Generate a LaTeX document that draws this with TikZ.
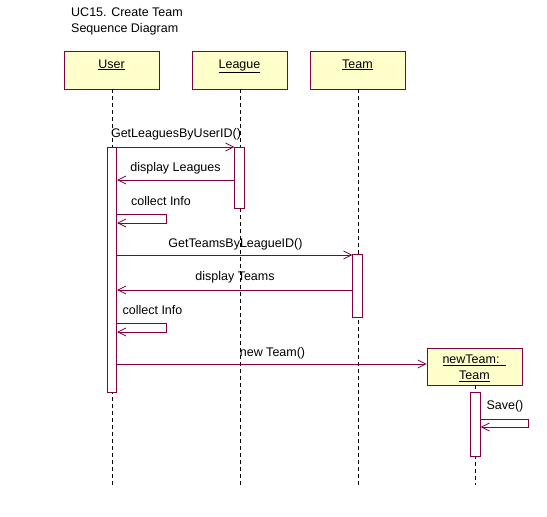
\documentclass[tikz,border=0pt]{standalone}
\usepackage{fontspec}
\setmainfont{Liberation Sans}
\usetikzlibrary{arrows.meta}
\definecolor{rose}{RGB}{128,0,64}
\definecolor{objfill}{RGB}{255,255,204}
\begin{document}
\begin{tikzpicture}[x=1pt,y=-1pt,
  every node/.style={font=\fontsize{12.5}{16}\selectfont},
  objbox/.style={draw=rose, fill=objfill, line width=0.8pt, minimum width=95pt,
    minimum height=38pt, inner sep=0pt},
  headbox/.style={objbox, text height=9pt, text depth=13pt},
  act/.style={draw=rose, fill=white, line width=0.8pt, minimum width=9.5pt, inner sep=0pt},
  life/.style={black, dash pattern=on 4pt off 3pt, line width=0.7pt},
  msg/.style={draw=rose, line width=0.8pt, -{Straight Barb[length=8pt,width=8pt]}},
  lbl/.style={inner sep=0pt, anchor=base}]
\useasboundingbox (0,0) rectangle (547,517);

% title
\node[lbl, anchor=base west] (title1) at (71,16) {UC15. Create Team};
\node[lbl, anchor=base west] (title2) at (71,32) {Sequence Diagram};

% object heads
\node[headbox] (user)   at (111.5,70) {\underline{User}};
\node[headbox] (league) at (239.5,70) {\underline{League}};
\node[headbox] (team)   at (357.5,70) {\underline{Team}};

% lifeline ends
\coordinate (userEnd)   at (112,485);
\coordinate (leagueEnd) at (240,485);
\coordinate (teamEnd)   at (358,485);
\coordinate (ntEnd)     at (475.5,485);

% lifelines
\draw[life] (user.south -| userEnd) -- (userEnd);
\draw[life] (league.south -| leagueEnd) -- (leagueEnd);
\draw[life] (team.south -| teamEnd) -- (teamEnd);

% created object
\node[objbox, minimum height=37pt, align=center] (nt) at (474.5,366.5)
  {\rule{0pt}{13pt}\underline{newTeam:\ \ }\\\underline{Team}};
\draw[life] (nt.south -| ntEnd) -- (ntEnd);

% activation bars
\node[act, minimum height=245pt] (ua) at (112,269.5) {};
\node[act, minimum height=61pt]  (la) at (239.5,177.5) {};
\node[act, minimum height=63pt]  (ta) at (357.5,285.5) {};
\node[act, minimum height=64pt]  (na) at (475.5,424) {};

% messages
\draw[msg] (ua.east |- 0,147) -- (la.west |- 0,147);
\node[lbl] (m1) at (176,137) {GetLeaguesByUserID()};

\draw[msg] (la.west |- 0,180) -- (ua.east |- 0,180);
\node[lbl] (m2) at (175.5,171) {display Leagues};

\draw[msg] (ua.east |- 0,214) -- ++(49,0) -- ++(0,9) -- (ua.east |- 0,223);
\node[lbl] (m3) at (161,205) {collect Info};

\draw[msg] (ua.east |- 0,255) -- (ta.west |- 0,255);
\node[lbl] (m4) at (235.5,247) {GetTeamsByLeagueID()};

\draw[msg] (ta.west |- 0,290) -- (ua.east |- 0,290);
\node[lbl] (m5) at (235,280) {display Teams};

\draw[msg] (ua.east |- 0,323) -- ++(49,0) -- ++(0,9) -- (ua.east |- 0,332);
\node[lbl] (m6) at (152.5,314) {collect Info};

\draw[msg] (ua.east |- 0,364) -- (nt.west |- 0,364);
\node[lbl] (m7) at (272.5,356) {new Team()};

\draw[msg] (na.east |- 0,419) -- ++(48,0) -- ++(0,8) -- (na.east |- 0,427);
\node[lbl] (m8) at (505,409) {Save()};
\end{tikzpicture}
\end{document}
